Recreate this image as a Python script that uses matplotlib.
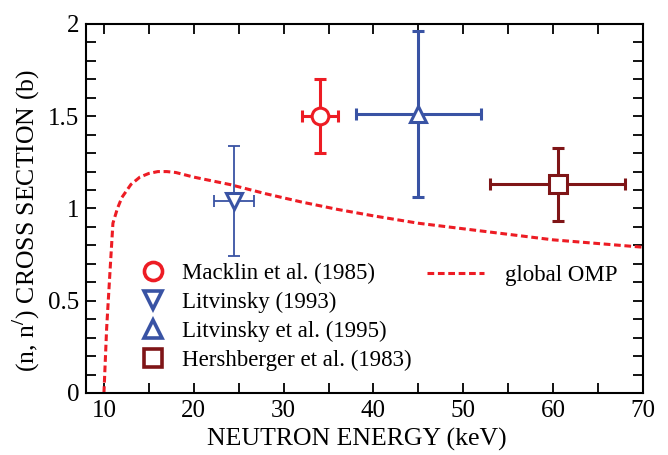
import matplotlib
matplotlib.use('Agg')
import matplotlib.pyplot as plt
from matplotlib.ticker import MultipleLocator
from matplotlib.lines import Line2D

plt.rcParams['font.family'] = ['Liberation Serif', 'DejaVu Serif']
plt.rcParams['mathtext.fontset'] = 'stix'

# global OMP curve
omp_e = [10, 10.3, 10.7, 11, 11.5, 12, 13, 14, 15, 16, 17, 18, 20, 24, 28, 32, 36, 40, 45, 50, 55, 60, 65, 70]
omp_xs = [0, 0.35, 0.68, 0.92, 1.0, 1.06, 1.13, 1.17, 1.19, 1.20, 1.20, 1.195, 1.17, 1.13, 1.08, 1.035,
          0.995, 0.96, 0.92, 0.89, 0.86, 0.83, 0.81, 0.79]

# experimental points: energy, xs, energy err, xs err
labels = ['Macklin et al. (1985)', 'Litvinsky (1993)', 'Litvinsky et al. (1995)', 'Hershberger et al. (1983)']
exp_e = [34, 24.5, 45, 60.5]
exp_xs = [1.50, 1.04, 1.51, 1.13]
exp_de = [2.0, 2.2, 7.0, 7.5]
exp_dxs = [0.20, 0.30, 0.45, 0.20]

markers = ['o', 'v', '^', 's']
colors = ['#ED1C24', '#3953A4', '#3953A4', '#7F1517']
lws = [2.2, 1.3, 2.2, 2.2]
msizes = [12, 12, 12, 13]

fig = plt.figure(figsize=(6.68, 4.55), dpi=100)
ax = fig.add_axes([0.1287, 0.1363, 0.8339, 0.811])

ax.plot(omp_e, omp_xs, color='#ED1C24', lw=2.2, dashes=(2.2, 1.2))

handles = []
for i in range(4):
    ax.errorbar(exp_e[i], exp_xs[i], xerr=exp_de[i], yerr=exp_dxs[i], fmt='none',
                ecolor=colors[i], elinewidth=lws[i], capsize=4, capthick=lws[i], zorder=3)
    ax.plot(exp_e[i], exp_xs[i], marker=markers[i], ms=msizes[i], mfc='white', mec=colors[i],
            mew=2.2, ls='none', zorder=4)
    handles.append(Line2D([], [], marker=markers[i], ms=13, mfc='white', mec=colors[i],
                          mew=2.6, ls='none'))

leg1 = ax.legend(handles, labels, loc='upper left', bbox_to_anchor=(0.062, 0.377), frameon=False,
                 fontsize=16.5, handletextpad=0.3, labelspacing=0.34, borderaxespad=0)
ax.add_artist(leg1)
omp_handle = Line2D([], [], color='#ED1C24', lw=2.2, dashes=(2.2, 1.2))
ax.legend([omp_handle], ['global OMP'], loc='upper left', bbox_to_anchor=(0.596, 0.373), frameon=False,
          fontsize=16.5, handlelength=2.5, handletextpad=0.9, borderaxespad=0)

ax.set_xlim(8, 70)
ax.set_ylim(0, 2)
ax.xaxis.set_major_locator(MultipleLocator(10))
ax.xaxis.set_minor_locator(MultipleLocator(5))
ax.yaxis.set_major_locator(MultipleLocator(0.5))
ax.yaxis.set_minor_locator(MultipleLocator(0.1))
ax.yaxis.set_major_formatter(matplotlib.ticker.FuncFormatter(lambda v, p: '%g' % v))
ax.tick_params(which='both', direction='in', top=True, right=True, length=7, width=1.3,
               labelsize=18, pad=5)
for s in ax.spines.values():
    s.set_linewidth(1.5)

ax.set_xlabel('NEUTRON ENERGY (keV)', fontsize=18.5, labelpad=4)
ax.set_ylabel(r'(n, n$^{/}$) CROSS SECTION (b)', fontsize=18.5, labelpad=4)
ax.xaxis.label.set_x(0.4865)
ax.yaxis.label.set_y(0.466)

fig.savefig('out.png', dpi=100)
